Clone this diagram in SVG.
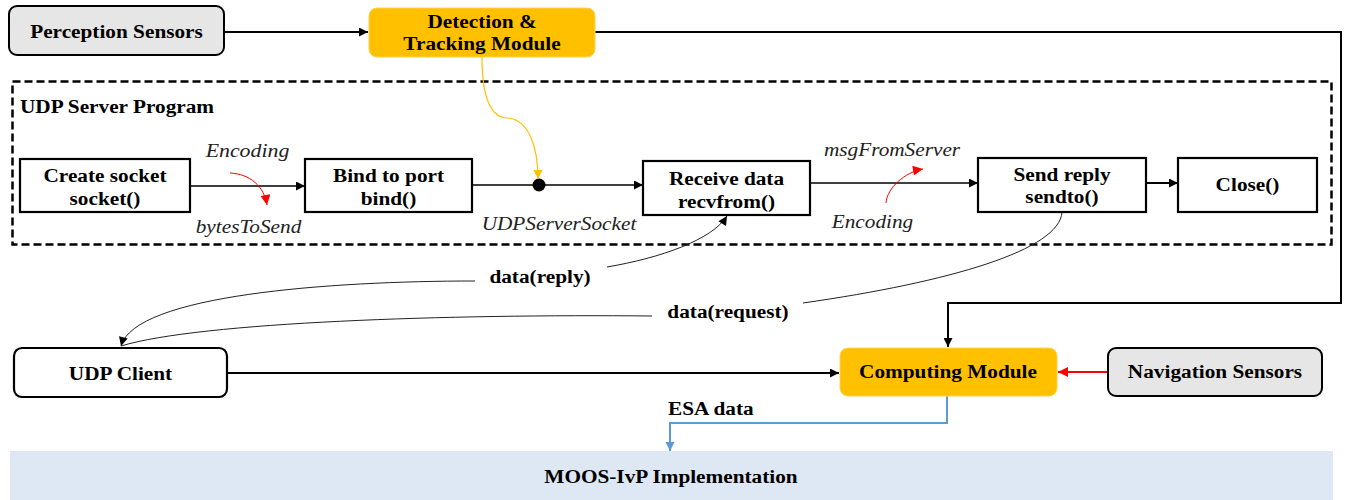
<svg xmlns="http://www.w3.org/2000/svg" width="1347" height="500" viewBox="0 0 1347 500">
  <style>
    .t { font-family: "Liberation Serif", "Times New Roman", serif; font-size: 19px; fill: #000; }
    .b { font-weight: bold; }
    .i { font-style: italic; fill: #222; }
    .mid { text-anchor: middle; }
    .box { fill: #fff; stroke: #000; stroke-width: 2.2; }
    .sensor { fill: #e6e6e6; stroke: #000; stroke-width: 2; }
    .module { fill: #ffc000; stroke: #ffd24d; stroke-width: 1; }
    .ln { fill: none; stroke: #000; stroke-width: 1.3; }
    .thick { fill: none; stroke: #000; stroke-width: 2; }
    .thin { fill: none; stroke: #222; stroke-width: 1; }
    .red { fill: none; stroke: #ff0000; stroke-width: 1; }
    .ylw { fill: none; stroke: #ffc000; stroke-width: 1.2; }
    .blu { fill: none; stroke: #5b9bd5; stroke-width: 2; }
  </style>
  <defs>
    <marker id="ah" viewBox="0 0 10 10" refX="10" refY="5" markerWidth="10" markerHeight="9" markerUnits="userSpaceOnUse" orient="auto">
      <path d="M0,0 L10,5 L0,10 z" fill="#000"/>
    </marker>
    <marker id="ahR" viewBox="0 0 10 10" refX="10" refY="5" markerWidth="11" markerHeight="10" markerUnits="userSpaceOnUse" orient="auto">
      <path d="M0,0 L10,5 L0,10 z" fill="#ff0000"/>
    </marker>
    <marker id="ahY" viewBox="0 0 10 10" refX="10" refY="5" markerWidth="9" markerHeight="10" markerUnits="userSpaceOnUse" orient="auto">
      <path d="M0,0 L10,5 L0,10 z" fill="#ffc000"/>
    </marker>
    <marker id="ahB" viewBox="0 0 10 10" refX="10" refY="5" markerWidth="9" markerHeight="10" markerUnits="userSpaceOnUse" orient="auto">
      <path d="M0,0 L10,5 L0,10 z" fill="#5b9bd5"/>
    </marker>
  </defs>

  <!-- bottom band -->
  <g id="moos">
    <rect x="10" y="451" width="1323" height="49" fill="#dde8f4"/>
    <text class="t b mid" transform="translate(671 483) scale(1.12 1)">MOOS-IvP Implementation</text>
  </g>

  <!-- server program frame -->
  <g id="udp-server">
    <rect x="12.5" y="81.5" width="1319" height="163" fill="none" stroke="#000" stroke-width="2.5" stroke-dasharray="8 4"/>
    <text class="t b" transform="translate(20 113) scale(1.12 1)">UDP Server Program</text>
  </g>

  <g id="connectors">
    <!-- sensor / module links -->
    <line class="thick" x1="224" y1="32" x2="368" y2="32" marker-end="url(#ah)"/>
    <polyline class="thick" points="595,32 1341,32 1341,303 948,303 948,347" marker-end="url(#ah)"/>
    <line class="thick" x1="227" y1="373" x2="839" y2="373" marker-end="url(#ah)"/>
    <line x1="1108" y1="372" x2="1058" y2="372" stroke="#ff0000" stroke-width="2" marker-end="url(#ahR)"/>
    <polyline class="blu" points="947,396 947,423 670,423 670,451" marker-end="url(#ahB)"/>

    <!-- server pipeline -->
    <line class="ln" x1="190" y1="186" x2="305" y2="186" marker-end="url(#ah)"/>
    <line class="ln" x1="472" y1="185" x2="643" y2="185" marker-end="url(#ah)"/>
    <circle cx="539" cy="185" r="6.5" fill="#000"/>
    <line class="ln" x1="810" y1="183" x2="978" y2="183" marker-end="url(#ah)"/>
    <line x1="1146" y1="183" x2="1178" y2="183" stroke="#000" stroke-width="2" marker-end="url(#ah)"/>

    <!-- encoding curves -->
    <path class="red" d="M230,173 C250,174 264,186 267,205" marker-end="url(#ahR)"/>
    <path class="red" d="M886,203 C887,188 905,172 923,169" marker-end="url(#ahR)"/>

    <!-- tracking output to socket -->
    <path class="ylw" d="M482,57 C482,95 490,118 508,118 C528,120 538,145 538,179" marker-end="url(#ahY)"/>

    <!-- client exchange -->
    <path class="thin" d="M475,281 C330,281 135,295 121,346" marker-end="url(#ah)"/>
    <path class="thin" d="M652,316 C450,314 200,322 121,346"/>
    <path class="thin" d="M607,267 C660,258 712,240 727,216" marker-end="url(#ah)"/>
    <path class="thin" d="M1062,212 C1060,250 950,282 803,303"/>
  </g>

  <g id="perception-sensors">
    <rect class="sensor" x="9" y="6" width="215" height="49" rx="8"/>
    <text class="t b mid" transform="translate(116.5 38) scale(1.12 1)">Perception Sensors</text>
  </g>

  <g id="detection-tracking">
    <rect class="module" x="369" y="8" width="226" height="49" rx="8"/>
    <text class="t b mid" transform="translate(482 28) scale(1.12 1)">Detection &amp;</text>
    <text class="t b mid" transform="translate(482 50) scale(1.12 1)">Tracking Module</text>
  </g>

  <g id="create-socket">
    <rect class="box" x="20" y="159" width="170" height="53"/>
    <text class="t b mid" transform="translate(105 182) scale(1.12 1)">Create socket</text>
    <text class="t b mid" transform="translate(105 205) scale(1.12 1)">socket()</text>
  </g>

  <g id="bind">
    <rect class="box" x="305" y="159" width="167" height="53"/>
    <text class="t b mid" transform="translate(388.5 182) scale(1.12 1)">Bind to port</text>
    <text class="t b mid" transform="translate(388.5 205) scale(1.12 1)">bind()</text>
  </g>

  <g id="receive">
    <rect class="box" x="643" y="161" width="167" height="54"/>
    <text class="t b mid" transform="translate(726.5 185) scale(1.12 1)">Receive data</text>
    <text class="t b mid" transform="translate(726.5 208) scale(1.12 1)">recvfrom()</text>
  </g>

  <g id="send-reply">
    <rect class="box" x="978" y="158" width="168" height="54"/>
    <text class="t b mid" transform="translate(1062 181) scale(1.12 1)">Send reply</text>
    <text class="t b mid" transform="translate(1062 203) scale(1.12 1)">sendto()</text>
  </g>

  <g id="close">
    <rect class="box" x="1178" y="158" width="139" height="54"/>
    <text class="t b mid" transform="translate(1247.5 191) scale(1.12 1)">Close()</text>
  </g>

  <g id="labels">
    <text class="t i mid" transform="translate(247.5 157) scale(1.15 1)">Encoding</text>
    <text class="t i mid" transform="translate(248.5 233) scale(1.12 1)">bytesToSend</text>
    <text class="t i mid" transform="translate(559 230) scale(1.12 1)">UDPServerSocket</text>
    <text class="t i mid" transform="translate(892 156) scale(1.12 1)">msgFromServer</text>
    <text class="t i mid" transform="translate(872.5 228) scale(1.12 1)">Encoding</text>
    <text class="t b mid" transform="translate(540 283) scale(1.12 1)">data(reply)</text>
    <text class="t b mid" transform="translate(728 318) scale(1.12 1)">data(request)</text>
    <text class="t b" transform="translate(668 415) scale(1.12 1)">ESA data</text>
  </g>

  <g id="udp-client">
    <rect class="box" x="14" y="348" width="213" height="49" rx="8" stroke-width="2"/>
    <text class="t b mid" transform="translate(120.5 380) scale(1.12 1)">UDP Client</text>
  </g>

  <g id="computing-module">
    <rect class="module" x="840" y="348" width="217" height="48" rx="8"/>
    <text class="t b mid" transform="translate(948 378) scale(1.12 1)">Computing Module</text>
  </g>

  <g id="navigation-sensors">
    <rect class="sensor" x="1108" y="348" width="214" height="48" rx="8"/>
    <text class="t b mid" transform="translate(1215 378) scale(1.12 1)">Navigation Sensors</text>
  </g>
</svg>
